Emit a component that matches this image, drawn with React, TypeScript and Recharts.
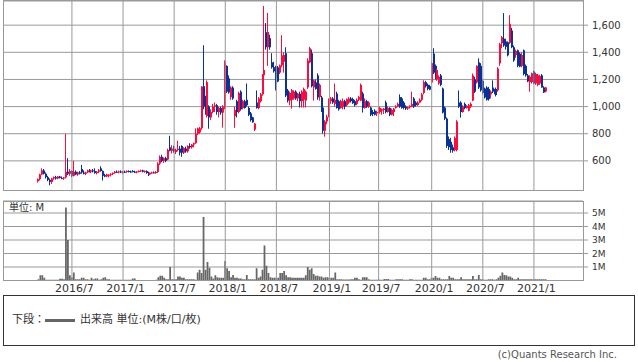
import React from "react";
import {
  ComposedChart,
  Bar,
  XAxis,
  YAxis,
  CartesianGrid,
  ReferenceLine,
} from "recharts";

// weekly candles [open, high, low, close], from the week of 2016/2/29
const ohlc: [number, number, number, number][] = [
  [450, 470, 440, 465], [465, 505, 455, 500], [500, 545, 495, 530], [530, 540, 500, 505], [505, 515, 470, 480],
  [480, 490, 450, 460], [460, 470, 420, 445], [445, 475, 430, 470], [470, 485, 460, 480], [480, 490, 462, 470],
  [470, 488, 465, 485], [485, 490, 470, 475], [475, 485, 465, 470], [470, 482, 460, 478], [478, 800, 470, 520],
  [520, 620, 495, 505], [505, 540, 490, 525], [525, 530, 480, 490], [490, 600, 485, 520], [520, 530, 495, 500],
  [500, 520, 490, 515], [515, 525, 500, 505], [540, 570, 505, 515], [515, 530, 500, 505], [505, 520, 495, 515],
  [515, 535, 510, 530], [530, 540, 515, 520], [520, 535, 510, 530], [530, 540, 515, 525], [525, 545, 505, 510],
  [510, 525, 500, 520], [520, 540, 510, 530], [545, 560, 520, 525], [525, 530, 455, 490], [495, 505, 480, 485],
  [485, 505, 480, 500], [490, 502, 478, 498], [498, 508, 485, 505], [505, 515, 495, 510], [510, 525, 505, 520],
  [520, 530, 512, 515], [515, 528, 508, 522], [522, 530, 510, 515], [515, 525, 505, 520], [520, 528, 510, 518],
  [518, 530, 512, 525], [525, 530, 515, 522], [522, 528, 512, 518], [525, 532, 515, 520], [520, 528, 510, 515],
  [515, 525, 508, 522], [522, 530, 515, 525], [525, 535, 518, 530], [530, 535, 515, 520], [520, 530, 512, 525],
  [525, 530, 505, 510], [510, 520, 488, 500], [500, 515, 495, 512], [512, 520, 505, 515], [515, 522, 508, 512],
  [512, 525, 505, 518], [518, 590, 510, 580], [580, 640, 570, 630], [630, 645, 590, 600], [600, 625, 585, 620],
  [620, 630, 590, 600], [610, 690, 605, 680], [700, 785, 670, 675], [675, 715, 655, 690], [690, 712, 660, 670],
  [665, 690, 650, 680], [680, 748, 670, 690], [690, 710, 640, 660], [710, 715, 630, 660], [660, 700, 650, 695],
  [690, 705, 660, 670], [670, 715, 660, 710], [710, 730, 690, 700], [700, 725, 690, 720], [720, 735, 700, 730],
  [730, 840, 725, 800], [800, 845, 790, 840], [810, 850, 800, 840], [840, 1150, 830, 1148], [1150, 1452, 980, 1000],
  [1050, 1080, 940, 950], [930, 1193, 920, 1180], [1000, 1010, 837, 920], [920, 980, 900, 960], [960, 1020, 950, 1000],
  [1000, 1030, 960, 1010], [1010, 1020, 940, 960], [960, 1000, 920, 990], [990, 1000, 940, 955], [955, 1010, 845, 1000],
  [990, 1341, 980, 1330], [1300, 1304, 1100, 1110], [1207, 1230, 1095, 1104], [1070, 1150, 1050, 1141], [1140, 1150, 1050, 1060],
  [930, 1000, 844, 975], [1040, 1050, 920, 960], [960, 1110, 950, 1100], [1110, 1120, 970, 980], [990, 1050, 980, 1040],
  [1040, 1050, 985, 990], [1050, 1170, 1000, 1010], [990, 1000, 930, 940], [950, 960, 890, 900], [920, 925, 880, 885],
  [830, 880, 820, 875], [1030, 1119, 985, 990], [990, 1070, 980, 1060], [1040, 1100, 1030, 1090], [1090, 1240, 1080, 1230],
  [1230, 1741, 1220, 1270], [1548, 1615, 1420, 1437], [1437, 1690, 1300, 1550], [1504, 1530, 1420, 1437], [1326, 1393, 1280, 1289],
  [1290, 1330, 1250, 1260], [1289, 1300, 1119, 1215], [1289, 1300, 1180, 1185], [1250, 1310, 1240, 1304], [1304, 1526, 1290, 1378],
  [1330, 1400, 1250, 1380], [1393, 1437, 1070, 1081], [1119, 1130, 1030, 1044], [1044, 1110, 1010, 1100], [1050, 1130, 985, 1120],
  [1060, 1120, 1050, 1110], [1110, 1120, 1050, 1060], [1060, 1100, 1040, 1095], [1095, 1110, 993, 1040], [1040, 1120, 993, 1110],
  [1050, 1140, 993, 1130], [1044, 1119, 993, 1110], [1141, 1356, 1130, 1340], [1326, 1440, 1320, 1430], [1393, 1420, 1141, 1150],
  [1141, 1200, 1044, 1193], [1178, 1200, 1125, 1130], [1230, 1245, 1050, 1067], [1070, 1170, 1044, 1160], [1067, 1080, 960, 970],
  [993, 1000, 800, 822], [822, 900, 778, 890], [890, 940, 870, 925], [933, 1060, 920, 1050], [1040, 1070, 1020, 1060],
  [1060, 1070, 1020, 1030], [1020, 1170, 1000, 1050], [1096, 1110, 985, 990], [1040, 1050, 970, 980], [990, 1050, 985, 1040],
  [1000, 1060, 980, 1040], [1040, 1050, 980, 1000], [1010, 1060, 1000, 1055], [1030, 1070, 1020, 1060], [1060, 1070, 1030, 1040],
  [1055, 1065, 1020, 1025], [1040, 1050, 1000, 1010], [1020, 1060, 1010, 1050], [1050, 1080, 1040, 1070], [1044, 1170, 1040, 1160],
  [1096, 1110, 956, 990], [990, 1060, 985, 1040], [1040, 1050, 990, 1000], [1000, 1040, 990, 1030], [993, 1000, 930, 940],
  [960, 975, 930, 945], [970, 980, 935, 940], [950, 970, 930, 960], [950, 990, 945, 985], [960, 1000, 950, 990],
  [970, 985, 940, 980], [975, 990, 945, 985], [1030, 1044, 950, 960], [960, 1000, 955, 990], [990, 995, 930, 940],
  [940, 985, 935, 975], [960, 990, 930, 985], [990, 1010, 985, 1000], [1000, 1030, 995, 1020], [1070, 1090, 990, 1000],
  [1060, 1070, 985, 990], [1030, 1040, 980, 990], [1000, 1010, 975, 985], [985, 1000, 975, 995], [995, 1010, 985, 1005],
  [1000, 1110, 995, 1020], [1060, 1070, 990, 1000], [1030, 1040, 1000, 1010], [1010, 1040, 1005, 1030], [1030, 1060, 1025, 1050],
  [1050, 1100, 1040, 1090], [1100, 1193, 1090, 1180], [1180, 1190, 1140, 1150], [1160, 1170, 1120, 1130], [1150, 1160, 1120, 1125],
  [1178, 1330, 1170, 1320], [1390, 1430, 1240, 1250], [1300, 1310, 1200, 1210], [1200, 1280, 1190, 1270], [1170, 1230, 1160, 1220],
  [1230, 1240, 1150, 1160], [1133, 1140, 950, 956], [993, 1000, 900, 911], [911, 920, 696, 710], [760, 780, 680, 700],
  [740, 770, 660, 680], [700, 720, 660, 675], [680, 780, 670, 770], [680, 900, 670, 890], [1030, 1119, 990, 1000],
  [1030, 1040, 919, 960], [960, 1010, 955, 1000], [1020, 1030, 980, 990], [990, 1010, 985, 1005], [970, 1020, 965, 1010],
  [1000, 1030, 990, 1020], [1044, 1244, 1040, 1230], [1200, 1220, 1100, 1110], [1178, 1304, 1170, 1300], [1326, 1356, 1130, 1141],
  [1300, 1320, 1110, 1120], [1190, 1200, 1090, 1100], [1133, 1140, 1060, 1067], [1141, 1150, 1044, 1050], [1130, 1145, 1044, 1055],
  [1090, 1120, 1060, 1110], [1140, 1193, 1100, 1110], [1120, 1130, 1090, 1100], [1130, 1140, 1075, 1085], [1120, 1290, 1110, 1280],
  [1319, 1470, 1300, 1460], [1467, 1520, 1430, 1511], [1500, 1689, 1440, 1450], [1480, 1500, 1420, 1440], [1474, 1480, 1370, 1378],
  [1470, 1674, 1460, 1610], [1560, 1580, 1430, 1437], [1437, 1450, 1330, 1340], [1380, 1420, 1360, 1410], [1415, 1420, 1290, 1300],
  [1390, 1400, 1290, 1295], [1300, 1400, 1290, 1380], [1415, 1420, 1230, 1240], [1300, 1310, 1220, 1230], [1230, 1240, 1180, 1185],
  [1180, 1230, 1110, 1220], [1180, 1250, 1170, 1245], [1259, 1265, 1165, 1170], [1170, 1250, 1160, 1240], [1160, 1240, 1150, 1230],
  [1170, 1235, 1160, 1225], [1230, 1240, 1140, 1141], [1141, 1150, 1100, 1104], [1111, 1145, 1105, 1141],
];

// weekly volume, millions
const volume: number[] = [
  0.1, 0.38, 0.38, 0.2, 0.06, 0.06, 0.06, 0.06, 0.06, 0.06,
  0.06, 0.13, 0.13, 0.1, 5.4, 3.0, 0.38, 0.22, 0.6, 0.1,
  0.1, 0.1, 0.2, 0.2, 0.1, 0.1, 0.05, 0.2, 0.1, 0.15,
  0.15, 0.05, 0.1, 0.2, 0.25, 0.1, 0.1, 0.05, 0.05, 0.05,
  0.05, 0.05, 0.05, 0.05, 0.05, 0.05, 0.05, 0.05, 0.15, 0.15,
  0.03, 0.03, 0.03, 0.03, 0.03, 0.03, 0.03, 0.03, 0.03, 0.03,
  0.05, 0.25, 0.35, 0.35, 0.2, 0.1, 0.1, 1.0, 0.1, 0.1,
  0.1, 0.3, 0.3, 0.2, 0.2, 0.1, 0.1, 0.1, 0.1, 0.1,
  0.05, 0.6, 0.8, 0.55, 4.7, 0.8, 1.37, 0.95, 0.3, 0.15,
  0.38, 0.25, 0.2, 0.2, 0.2, 1.44, 0.9, 0.7, 0.25, 0.4,
  0.2, 0.2, 0.15, 0.15, 0.1, 0.1, 0.4, 0.1, 0.1, 0.1,
  0.1, 0.9, 0.2, 0.3, 0.8, 2.6, 1.1, 0.55, 0.25, 0.2,
  0.2, 0.2, 0.2, 0.55, 0.55, 0.7, 0.38, 0.25, 0.25, 0.2,
  0.2, 0.2, 0.2, 0.2, 0.2, 0.2, 0.38, 1.0, 0.8, 0.9,
  0.48, 0.35, 0.35, 0.3, 0.3, 0.2, 0.25, 0.25, 0.2, 0.2,
  0.2, 0.6, 0.1, 0.1, 0.1, 0.08, 0.08, 0.08, 0.08, 0.1,
  0.1, 0.2, 0.2, 0.1, 0.05, 0.25, 0.25, 0.25, 0.1, 0.05,
  0.05, 0.05, 0.05, 0.1, 0.05, 0.05, 0.12, 0.12, 0.12, 0.05,
  0.05, 0.05, 0.1, 0.1, 0.1, 0.1, 0.05, 0.05, 0.05, 0.1,
  0.1, 0.05, 0.05, 0.05, 0.05, 0.05, 0.2, 0.2, 0.1, 0.1,
  0.2, 0.2, 0.33, 0.2, 0.2, 0.1, 0.1, 0.1, 0.1, 0.33,
  0.2, 0.2, 0.1, 0.1, 0.1, 0.25, 0.1, 0.1, 0.1, 0.1,
  0.1, 0.33, 0.1, 0.1, 0.4, 0.1, 0.1, 0.05, 0.05, 0.1,
  0.1, 0.1, 0.05, 0.1, 0.2, 0.35, 0.6, 0.4, 0.38, 0.3,
  0.3, 0.2, 0.1, 0.1, 0.2, 0.1, 0.1, 0.1, 0.1, 0.1,
  0.1, 0.1, 0.1, 0.1, 0.1, 0.1, 0.1, 0.1, 0.1,
];

// week index of the first week of each labelled month
const tickWeeks = [17, 43, 69, 95, 121, 148, 173, 200, 226, 252];
const tickLabels = ["2016/7", "2017/1", "2017/7", "2018/1", "2018/7", "2019/1", "2019/7", "2020/1", "2020/7", "2021/1"];
const priceTicks = [600, 800, 1000, 1200, 1400, 1600];
const volumeTicks = [1, 2, 3, 4, 5];

const data = ohlc.map(([o, h, l, c], i) => ({ i, o, h, l, c, range: [l, h], vol: volume[i] }));

const UP = "#ff0a3c";
const DOWN = "#0a3296";
const GRID = "#999";
const FONT = "'DejaVu Sans', 'Noto Sans CJK JP', sans-serif";
const X_DOMAIN = [-18.06, 276.96];

const Candle = (props: any) => {
  const { x, y, width, height, payload } = props;
  const { o, h, l, c } = payload;
  const top = Math.min(y, y + height);
  const span = Math.abs(height);
  const k = h === l ? 0 : span / (h - l);
  const yOf = (v: number) => top + (h - v) * k;
  const cx = Math.round(x + width / 2);
  const color = c >= o ? UP : DOWN;
  const bTop = yOf(Math.max(o, c));
  const bBot = yOf(Math.min(o, c));
  return (
    <g>
      <line x1={cx - 0.5} x2={cx - 0.5} y1={top} y2={top + span} stroke={color} strokeWidth={1} />
      <rect x={cx - 1} y={bTop} width={2} height={Math.max(1, bBot - bTop)} fill={color} />
    </g>
  );
};

const DateTick = (props: any) => {
  const { x, y, payload } = props;
  const idx = tickWeeks.indexOf(payload.value);
  return (
    <text x={x + 2.5} y={y} dy="0.71em" textAnchor="middle" fontSize={11} fill="#333" fontFamily={FONT}>
      {idx >= 0 ? tickLabels[idx] : ""}
    </text>
  );
};

export default function App() {
  return (
    <div style={{ position: "absolute", left: 0, top: 0, width: 638, height: 362, background: "#fff", fontFamily: FONT }}>
      <div style={{ position: "absolute", left: 0, top: 0 }}>
        <ComposedChart width={638} height={191} data={data} margin={{ top: 1, right: 0, bottom: 0, left: 3 }}>
          <CartesianGrid stroke={GRID} vertical={false} />
          <XAxis dataKey="i" type="number" domain={X_DOMAIN} allowDataOverflow hide />
          <YAxis
            orientation="right"
            width={55}
            domain={[378, 1778]}
            ticks={priceTicks}
            interval={0}
            allowDataOverflow
            tickFormatter={(v: number) => v.toLocaleString("en-US")}
            axisLine={false}
            tickLine={{ stroke: GRID }}
            tickSize={5}
            tickMargin={4}
            tick={{ fontSize: 10, fill: "#333", fontFamily: FONT }}
          />
          {tickWeeks.map((t) => (
            <ReferenceLine key={t} x={t} stroke={GRID} />
          ))}
          <Bar dataKey="range" barSize={2} shape={<Candle />} isAnimationActive={false} />
        </ComposedChart>
      </div>
      <div style={{ position: "absolute", left: 3, top: 0, width: 581, height: 191, border: `1px solid ${GRID}`, boxSizing: "border-box" }} />

      <div style={{ position: "absolute", left: 0, top: 200 }}>
        <ComposedChart width={638} height={100} data={data} margin={{ top: 1, right: 0, bottom: 0, left: 3 }}>
          <CartesianGrid stroke={GRID} vertical={false} />
          <XAxis
            dataKey="i"
            type="number"
            domain={X_DOMAIN}
            allowDataOverflow
            ticks={tickWeeks}
            height={19.5}
            axisLine={false}
            tickLine={false}
            tickSize={0}
            tickMargin={4}
            tick={<DateTick />}
            interval={0}
          />
          <YAxis
            orientation="right"
            width={55}
            domain={[0, 5.89]}
            ticks={volumeTicks}
            interval={0}
            allowDataOverflow
            tickFormatter={(v: number) => `${v}M`}
            axisLine={false}
            tickLine={{ stroke: GRID }}
            tickSize={5}
            tickMargin={4}
            tick={{ fontSize: 9, fill: "#333", fontFamily: FONT }}
          />
          {tickWeeks.map((t) => (
            <ReferenceLine key={t} x={t} stroke={GRID} />
          ))}
          <Bar dataKey="vol" barSize={2} fill="#666" isAnimationActive={false} />
        </ComposedChart>
      </div>
      <div style={{ position: "absolute", left: 3, top: 201, width: 581, height: 80, border: `1px solid ${GRID}`, boxSizing: "border-box" }} />
      <div style={{ position: "absolute", left: 9, top: 202, fontSize: 10, color: "#333", lineHeight: "12px" }}>単位: M</div>

      <div style={{ position: "absolute", left: 3, top: 295, width: 632, height: 51, border: "1px solid #333", boxSizing: "border-box" }} />
      <div style={{ position: "absolute", left: 12, top: 313, fontSize: 11, color: "#333", lineHeight: "14px", display: "flex", alignItems: "center", whiteSpace: "nowrap" }}>
        <span>下段：</span>
        <span style={{ display: "inline-block", width: 30, height: 3, background: "#666", margin: "0 5px 0 0" }} />
        <span>出来高 単位:(M株/口/枚)</span>
      </div>
      <div style={{ position: "absolute", right: 21, top: 349, fontSize: 10, color: "#555", lineHeight: "12px", whiteSpace: "nowrap" }}>
        (c)Quants Research Inc.
      </div>
    </div>
  );
}
